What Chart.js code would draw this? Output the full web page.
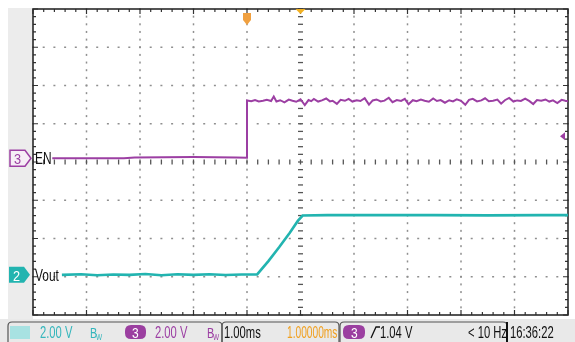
<!DOCTYPE html>
<html>
<head>
<meta charset="utf-8">
<script src="https://cdn.jsdelivr.net/npm/chart.js@4.4.0/dist/chart.umd.min.js"></script>
<style>
  html, body { margin: 0; padding: 0; background: #fff; }
  #scope { display: block; }
</style>
</head>
<body>
<canvas id="scope" width="575" height="342"></canvas>
<script>
// time in ms (1.00 ms/div, trigger at centre), volts at 2.00 V/div
var enTime = [-4.64, -3.3, -3.1, -2.0, -1.6, -1.2, -1.0,
  -1.0, -0.92, -0.85, -0.78, -0.7, -0.63, -0.55, -0.5, -0.45, -0.38, -0.3, -0.22, -0.15, -0.08, 0.0,
  0.08, 0.15, 0.2, 0.25, 0.33, 0.4, 0.48, 0.55, 0.6, 0.68, 0.75, 0.83, 0.9, 0.97, 1.05, 1.12, 1.2,
  1.28, 1.35, 1.42, 1.5, 1.57, 1.65, 1.72, 1.8, 1.88, 1.95, 2.02, 2.1, 2.17, 2.25, 2.32, 2.4, 2.48,
  2.55, 2.62, 2.7, 2.78, 2.85, 2.92, 3.0, 3.08, 3.15, 3.22, 3.3, 3.38, 3.45, 3.52, 3.6, 3.68, 3.75,
  3.82, 3.9, 3.98, 4.05, 4.12, 4.2, 4.28, 4.35, 4.42, 4.5, 4.58, 4.65, 4.72, 4.8, 4.88, 4.95, 5.0];
var enVolt = [0.0, 0.0, 0.04, 0.06, 0.05, 0.03, 0.02,
  3.02, 2.98, 3.04, 2.97, 3.0, 3.05, 2.99, 3.22, 2.96, 3.03, 2.92, 3.06, 3.0, 2.95, 3.08,
  2.78, 3.04, 2.98, 3.1, 2.96, 3.02, 3.12, 2.97, 3.0, 2.84, 3.05, 3.0, 3.1, 2.96, 3.03, 2.99, 3.14,
  2.8, 3.02, 3.07, 2.97, 3.01, 3.16, 2.93, 3.04, 2.99, 3.1, 2.82, 3.03, 2.98, 3.06, 3.0, 2.95, 3.12,
  2.99, 3.04, 2.9, 3.03, 2.97, 3.08, 3.0, 2.79, 3.05, 3.1, 2.97, 3.02, 3.13, 2.98, 3.0, 3.06, 2.85,
  3.03, 3.15, 2.96, 3.02, 2.99, 3.11, 2.98, 2.83, 3.04, 3.0, 3.07, 2.96, 3.02, 2.88, 3.05, 3.0, 2.98];

var voutTime = [-4.46, -4.1, -3.8, -3.5, -3.2, -2.9, -2.6, -2.3, -2.0, -1.7, -1.4, -1.1, -0.81,
  -0.6, -0.4, -0.2, -0.05, 0.04, 0.5, 1.5, 2.5, 3.5, 4.5, 5.0];
var voutVolt = [0.0, 0.03, -0.02, 0.02, 0.0, 0.04, -0.02, 0.03, 0.0, 0.03, -0.01, 0.02, 0.02,
  0.72, 1.44, 2.2, 2.82, 3.1, 3.12, 3.12, 3.12, 3.11, 3.12, 3.12];

// ground markers, in divisions from the centre line
var enGround = 0.1;
var voutGround = -2.95;
var voltsPerDiv = 2.0;

var EN_COLOR = '#9c3fa3';
var VOUT_COLOR = '#22b4b0';

function toPoints(times, volts, ground) {
  var pts = [];
  for (var i = 0; i < times.length; i++) {
    pts.push({ x: times[i], y: ground + volts[i] / voltsPerDiv });
  }
  return pts;
}

function narrowText(ctx, text, x, y, size, color, squeeze) {
  ctx.save();
  ctx.font = size + 'px "Liberation Sans", Arial, sans-serif';
  ctx.fillStyle = color;
  ctx.textBaseline = 'alphabetic';
  ctx.translate(x, y);
  ctx.scale(squeeze || 0.75, 1);
  ctx.fillText(text, 0, 0);
  ctx.restore();
}

function roundBox(ctx, x, y, w, h, r) {
  ctx.beginPath();
  ctx.moveTo(x + r, y);
  ctx.lineTo(x + w - r, y);
  ctx.quadraticCurveTo(x + w, y, x + w, y + r);
  ctx.lineTo(x + w, y + h - r);
  ctx.quadraticCurveTo(x + w, y + h, x + w - r, y + h);
  ctx.lineTo(x + r, y + h);
  ctx.quadraticCurveTo(x, y + h, x, y + h - r);
  ctx.lineTo(x, y + r);
  ctx.quadraticCurveTo(x, y, x + r, y);
  ctx.closePath();
}

function chanTag(ctx, x, y, fill, stroke, label, textColor) {
  // rectangle with an arrow pointing right, like the scope's channel marker
  ctx.save();
  ctx.beginPath();
  ctx.moveTo(x, y);
  ctx.lineTo(x + 15, y);
  ctx.lineTo(x + 21, y + 8);
  ctx.lineTo(x + 15, y + 16);
  ctx.lineTo(x, y + 16);
  ctx.closePath();
  if (fill) { ctx.fillStyle = fill; ctx.fill(); }
  if (stroke) { ctx.strokeStyle = stroke; ctx.lineWidth = 1.5; ctx.stroke(); }
  ctx.restore();
  narrowText(ctx, label, x + 4, y + 14, 15, textColor, 0.85);
}

var scopePlugin = {
  id: 'scope',
  beforeDraw: function (chart) {
    var ctx = chart.ctx;
    ctx.save();
    ctx.fillStyle = '#ffffff';
    ctx.fillRect(0, 0, chart.width, chart.height);
    ctx.fillStyle = '#ececec';
    ctx.fillRect(8, 8, 25, 314);
    ctx.restore();
  },
  beforeDatasetsDraw: function (chart) {
    var ctx = chart.ctx;
    var a = chart.chartArea;
    var xs = chart.scales.x, ys = chart.scales.y;
    ctx.save();
    // dotted graticule
    ctx.fillStyle = '#8f8f8f';
    for (var i = -4; i <= 4; i++) {
      if (i === 0) continue;
      var gx = xs.getPixelForValue(i);
      for (var j = 0; j <= 40; j++) {
        var gy = ys.getPixelForValue(-4 + j * 0.2);
        ctx.fillRect(gx - 0.75, gy - 1, 1.5, 2);
      }
    }
    for (var k = -3; k <= 3; k++) {
      if (k === 0) continue;
      var hy = ys.getPixelForValue(k);
      for (var m = 0; m <= 50; m++) {
        var hx = xs.getPixelForValue(-5 + m * 0.2);
        ctx.fillRect(hx - 1, hy - 0.75, 2, 1.5);
      }
    }
    // centre axes with minor ticks
    ctx.strokeStyle = '#555';
    ctx.lineWidth = 1.3;
    var cx = xs.getPixelForValue(0), cy = ys.getPixelForValue(0);
    for (var p = 0; p <= 40; p++) {
      var ty = ys.getPixelForValue(-4 + p * 0.2);
      ctx.beginPath();
      ctx.moveTo(cx - 2.5, ty); ctx.lineTo(cx + 2.5, ty);
      ctx.stroke();
    }
    for (var q = 0; q <= 50; q++) {
      var tx = xs.getPixelForValue(-5 + q * 0.2);
      ctx.beginPath();
      ctx.moveTo(tx, cy - 2.5); ctx.lineTo(tx, cy + 2.5);
      ctx.stroke();
    }
    // border ticks
    ctx.strokeStyle = '#333';
    ctx.lineWidth = 1.2;
    for (var b = 0; b <= 50; b++) {
      var bx = xs.getPixelForValue(-5 + b * 0.2);
      var len = (b % 5 === 0) ? 5 : 3;
      ctx.beginPath();
      ctx.moveTo(bx, a.top); ctx.lineTo(bx, a.top + len);
      ctx.moveTo(bx, a.bottom); ctx.lineTo(bx, a.bottom - len);
      ctx.stroke();
    }
    for (var c = 0; c <= 40; c++) {
      var by = ys.getPixelForValue(-4 + c * 0.2);
      var len2 = (c % 5 === 0) ? 5 : 3;
      ctx.beginPath();
      ctx.moveTo(a.left, by); ctx.lineTo(a.left + len2, by);
      ctx.moveTo(a.right, by); ctx.lineTo(a.right - len2, by);
      ctx.stroke();
    }
    ctx.strokeStyle = '#2a2a2a';
    ctx.lineWidth = 1.6;
    ctx.strokeRect(a.left, a.top, a.right - a.left, a.bottom - a.top);
    ctx.restore();
  },
  afterDatasetsDraw: function (chart) {
    var ctx = chart.ctx;
    var a = chart.chartArea;
    var xs = chart.scales.x, ys = chart.scales.y;
    ctx.save();

    // trigger position marker and time-reference marker at the top
    var trigX = xs.getPixelForValue(-1.0);
    ctx.fillStyle = '#f0a040';
    ctx.beginPath();
    ctx.moveTo(trigX - 4, a.top + 4);
    ctx.lineTo(trigX + 4, a.top + 4);
    ctx.lineTo(trigX + 4, a.top + 11);
    ctx.lineTo(trigX, a.top + 16);
    ctx.lineTo(trigX - 4, a.top + 11);
    ctx.closePath();
    ctx.fill();
    var refX = xs.getPixelForValue(0);
    ctx.fillStyle = '#f2b020';
    ctx.beginPath();
    ctx.moveTo(refX - 5, a.top);
    ctx.lineTo(refX + 5, a.top);
    ctx.lineTo(refX, a.top + 5);
    ctx.closePath();
    ctx.fill();

    // trigger level arrow on the right
    var lvlY = ys.getPixelForValue(enGround + 1.04 / voltsPerDiv) - 2;
    ctx.fillStyle = EN_COLOR;
    ctx.beginPath();
    ctx.moveTo(a.right - 8, lvlY);
    ctx.lineTo(a.right - 3, lvlY - 4);
    ctx.lineTo(a.right - 3, lvlY + 4);
    ctx.closePath();
    ctx.fill();

    // channel ground markers and labels
    var enY = ys.getPixelForValue(enGround);
    chanTag(ctx, 10, enY - 8, '#f6eef6', EN_COLOR, '3', EN_COLOR);
    narrowText(ctx, 'EN', 35, enY + 6, 17, '#111', 0.7);
    var vY = ys.getPixelForValue(voutGround);
    chanTag(ctx, 9, vY - 8, VOUT_COLOR, null, '2', '#ffffff');
    narrowText(ctx, 'Vout', 35, vY + 6, 17, '#111', 0.7);

    // status bar
    ctx.fillStyle = '#e9e9e9';
    ctx.fillRect(0, 319, chart.width, 23);
    ctx.strokeStyle = '#555';
    ctx.lineWidth = 1.2;
    roundBox(ctx, 8, 322, 214, 26, 4); ctx.stroke();
    roundBox(ctx, 222, 322, 117, 26, 4); ctx.stroke();
    roundBox(ctx, 340, 322, 167, 26, 4); ctx.stroke();

    ctx.fillStyle = '#a8e2e2';
    ctx.fillRect(10, 326, 20, 13);
    narrowText(ctx, '2.00 V', 40, 338, 17, '#35b6bc', 0.66);
    narrowText(ctx, 'B', 90, 338, 15, '#35b6bc', 0.72);
    narrowText(ctx, 'W', 96, 340, 9, '#35b6bc', 0.72);

    ctx.fillStyle = '#9b3fa0';
    roundBox(ctx, 125, 325, 21, 14, 6); ctx.fill();
    narrowText(ctx, '3', 132, 338, 15, '#ffffff', 0.8);
    narrowText(ctx, '2.00 V', 155, 338, 17, EN_COLOR, 0.66);
    narrowText(ctx, 'B', 207, 338, 15, EN_COLOR, 0.72);
    narrowText(ctx, 'W', 213, 340, 9, EN_COLOR, 0.72);

    narrowText(ctx, '1.00ms', 224, 338, 17, '#111', 0.66);
    narrowText(ctx, '1.00000ms', 287, 338, 17, '#f0a020', 0.6);

    ctx.fillStyle = '#9b3fa0';
    roundBox(ctx, 343, 325, 22, 14, 6); ctx.fill();
    narrowText(ctx, '3', 351, 338, 15, '#ffffff', 0.8);
    ctx.strokeStyle = '#111';
    ctx.lineWidth = 1.3;
    ctx.beginPath();
    ctx.moveTo(371, 338); ctx.lineTo(376, 327); ctx.lineTo(380, 327);
    ctx.stroke();
    narrowText(ctx, '1.04 V', 380, 338, 17, '#111', 0.66);
    narrowText(ctx, '< 10 Hz', 468, 338, 17, '#111', 0.66);
    ctx.fillStyle = '#111';
    ctx.fillRect(506, 322, 2, 20);
    narrowText(ctx, '16:36:22', 510, 338, 17, '#111', 0.66);

    ctx.restore();
  }
};

var ctx = document.getElementById('scope');
var scopeChart = new Chart(ctx, {
  type: 'scatter',
  data: {
    datasets: [
      {
        label: 'EN',
        data: toPoints(enTime, enVolt, enGround),
        showLine: true,
        borderColor: EN_COLOR,
        borderWidth: 2,
        pointRadius: 0,
        tension: 0
      },
      {
        label: 'Vout',
        data: toPoints(voutTime, voutVolt, voutGround),
        showLine: true,
        borderColor: VOUT_COLOR,
        borderWidth: 2.6,
        pointRadius: 0,
        tension: 0
      }
    ]
  },
  options: {
    responsive: false,
    animation: false,
    devicePixelRatio: 1,
    layout: { padding: { left: 33, right: 7, top: 9, bottom: 27 } },
    plugins: {
      legend: { display: false },
      tooltip: { enabled: false }
    },
    scales: {
      x: { type: 'linear', min: -5, max: 5, display: false },
      y: { type: 'linear', min: -4, max: 4, display: false }
    }
  },
  plugins: [scopePlugin]
});
</script>
</body>
</html>
